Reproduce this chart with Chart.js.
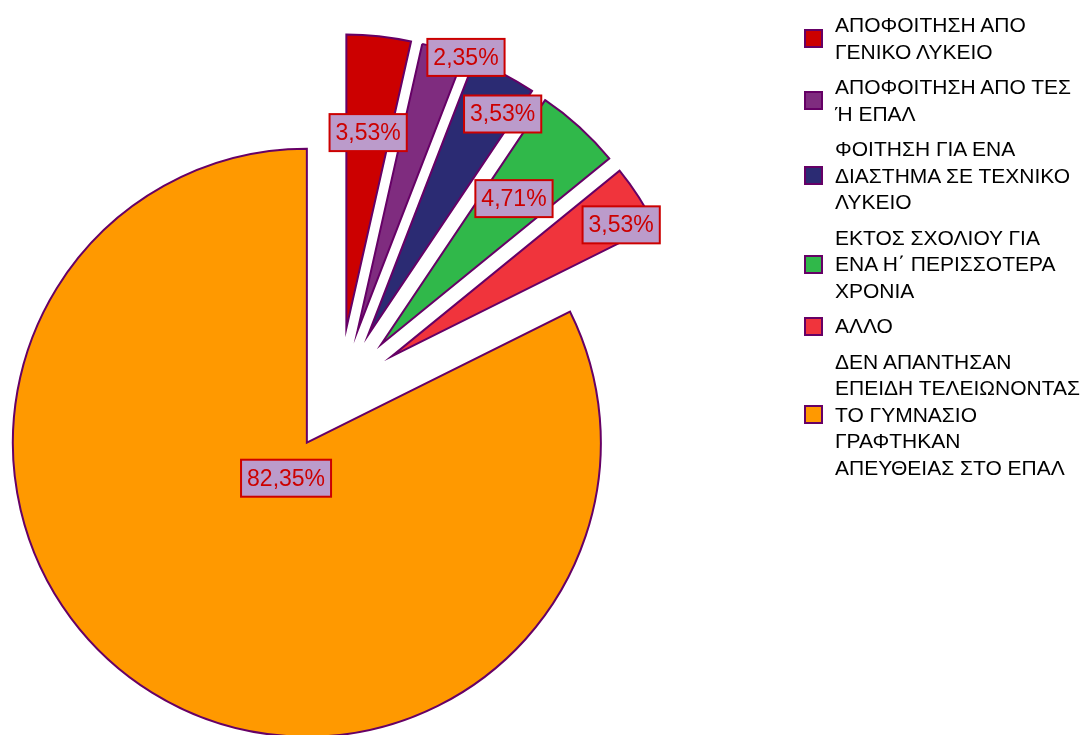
<!DOCTYPE html>
<html lang="el">
<head>
<meta charset="utf-8">
<title>Pie</title>
<script src="https://cdn.jsdelivr.net/npm/chart.js@4.4.1/dist/chart.umd.min.js"></script>
<style>
  body { margin: 0; background: #fff; }
  .wrap { position: relative; width: 1090px; height: 735px; overflow: hidden; }
  #pieChart { position: absolute; left: 0; top: 0; }
  .legend {
    position: absolute; left: 804px; top: 12px;
    font-family: 'Liberation Sans', Arial, sans-serif;
    font-size: 21px; line-height: 26.5px; color: #000;
  }
  .legend-item { display: flex; align-items: center; margin-bottom: 9px; }
  .legend-box { width: 15px; height: 15px; border: 2px solid #660066; margin-right: 12px; flex: none; }
</style>
</head>
<body>
<div class="wrap">
  <canvas id="pieChart" width="1090" height="735"></canvas>
  <div class="legend" id="legend"></div>
</div>
<script>
// Dados do gráfico
const categories = [
  ['ΑΠΟΦΟΙΤΗΣΗ ΑΠΟ', 'ΓΕΝΙΚΟ ΛΥΚΕΙΟ'],
  ['ΑΠΟΦΟΙΤΗΣΗ ΑΠΟ ΤΕΣ', 'Ή ΕΠΑΛ'],
  ['ΦΟΙΤΗΣΗ ΓΙΑ ΕΝΑ', 'ΔΙΑΣΤΗΜΑ ΣΕ ΤΕΧΝΙΚΟ', 'ΛΥΚΕΙΟ'],
  ['ΕΚΤΟΣ ΣΧΟΛΙΟΥ ΓΙΑ', 'ΕΝΑ Η΄ ΠΕΡΙΣΣΟΤΕΡΑ', 'ΧΡΟΝΙΑ'],
  ['ΑΛΛΟ'],
  ['ΔΕΝ ΑΠΑΝΤΗΣΑΝ', 'ΕΠΕΙΔΗ ΤΕΛΕΙΩΝΟΝΤΑΣ', 'ΤΟ ΓΥΜΝΑΣΙΟ', 'ΓΡΑΦΤΗΚΑΝ', 'ΑΠΕΥΘΕΙΑΣ ΣΤΟ ΕΠΑΛ']
];
const values = [3.53, 2.35, 3.53, 4.71, 3.53, 82.35];
const colors = ['#CC0000', '#7F2C7F', '#2B2B73', '#30B84A', '#F0343C', '#FF9900'];

// Every slice pushed out along its own bisector
const explodePlugin = {
  id: 'explode',
  beforeDatasetDraw(chart, args, opts) {
    const ctx = chart.ctx;
    args.meta.data.forEach(arc => {
      const mid = (arc.startAngle + arc.endAngle) / 2;
      ctx.save();
      ctx.miterLimit = 20;
      ctx.translate(Math.cos(mid) * opts.distance, Math.sin(mid) * opts.distance);
      arc.draw(ctx);
      ctx.restore();
    });
    return false;
  }
};

// Percentage boxes
const labelPlugin = {
  id: 'sliceLabels',
  afterDatasetsDraw(chart, args, opts) {
    const ctx = chart.ctx;
    const dist = chart.options.plugins.explode.distance;
    ctx.save();
    ctx.font = opts.font;
    ctx.textAlign = 'center';
    ctx.textBaseline = 'middle';
    chart.getDatasetMeta(0).data.forEach((arc, i) => {
      const mid = (arc.startAngle + arc.endAngle) / 2;
      const a = mid + opts.nudge[i] * Math.PI / 180;
      const r = opts.radius[i] * arc.outerRadius;
      const x = arc.x + Math.cos(mid) * dist + Math.cos(a) * r;
      const y = arc.y + Math.sin(mid) * dist + Math.sin(a) * r;
      const text = values[i].toFixed(2).replace('.', ',') + '%';
      const w = ctx.measureText(text).width + 12;
      const h = 37;
      ctx.fillStyle = '#BB9BCB';
      ctx.fillRect(x - w / 2, y - h / 2, w, h);
      ctx.strokeStyle = '#CC0000';
      ctx.lineWidth = 2;
      ctx.strokeRect(x - w / 2, y - h / 2, w, h);
      ctx.fillStyle = '#CC0000';
      ctx.fillText(text, x, y + 1);
    });
    ctx.restore();
  }
};

const pieCtx = document.getElementById('pieChart').getContext('2d');

new Chart(pieCtx, {
  type: 'pie',
  data: {
    labels: categories,
    datasets: [{
      data: values,
      backgroundColor: colors,
      borderColor: '#660066',
      borderWidth: 2,
      borderJoinStyle: 'miter',
      clip: false
    }]
  },
  options: {
    responsive: false,
    animation: false,
    radius: 294,
    layout: { padding: { left: 0, right: 411, top: 45, bottom: 0 } },
    plugins: {
      legend: { display: false },
      tooltip: { enabled: false },
      explode: { distance: 62 },
      sliceLabels: {
        font: "23px 'Liberation Sans', Arial, sans-serif",
        radius: [0.67, 1.0, 0.88, 0.67, 0.9, 0.14],
        nudge: [0, 4.7, 3.8, 0, 3, -1.4]
      }
    }
  },
  plugins: [explodePlugin, labelPlugin]
});

// Legenda
function renderLegend() {
  const box = document.getElementById('legend');
  box.innerHTML = '';
  for (let i = 0; i < categories.length; i++) {
    const item = document.createElement('div');
    item.className = 'legend-item';
    item.innerHTML = `<span class="legend-box" style="background:${colors[i]}"></span>` +
      `<span>${categories[i].join('<br>')}</span>`;
    box.appendChild(item);
  }
}
renderLegend();
</script>
</body>
</html>
